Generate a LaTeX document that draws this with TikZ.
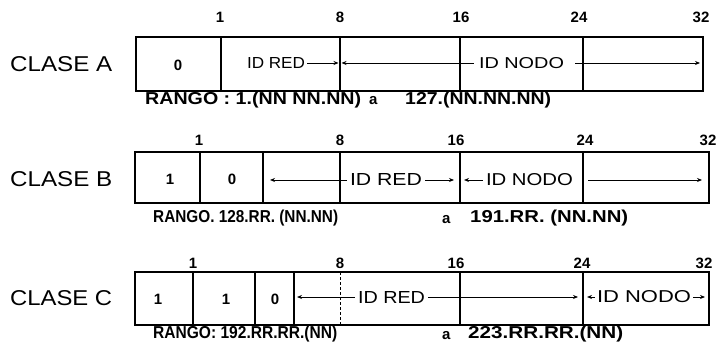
\documentclass[tikz,border=0pt]{standalone}
\usepackage{fontspec}
\setmainfont{Liberation Sans}
\usetikzlibrary{arrows.meta,calc}
\newcommand{\fitt}[3]{\resizebox{#1pt}{#2pt}{#3}}
\tikzset{
  cell/.style={draw, line width=1.3pt, inner sep=0pt, outer sep=0pt, anchor=north west},
  outerbox/.style={draw, line width=1.8pt, inner sep=0pt, outer sep=0pt, anchor=north west},
  dig/.style={font=\fontsize{15}{15}\selectfont\bfseries, inner sep=0pt},
  num/.style={font=\fontsize{15}{15}\selectfont\bfseries, inner sep=0pt},
  lbl/.style={inner sep=2pt},
  clase/.style={inner sep=0pt, anchor=west},
  rango/.style={inner sep=0pt, anchor=west},
  arr/.style={line width=0.9pt, -{Stealth[length=5pt,width=4pt]}},
  ln/.style={line width=0.9pt}
}
\begin{document}
\begin{tikzpicture}[x=1pt,y=-1pt]
\useasboundingbox (0,0) rectangle (722,347);

% ---------------- CLASE A ----------------
\node[clase] (ca) at (10,64) {\fitt{102}{15}{CLASE A}};
\node[cell, minimum width=85pt,  minimum height=54pt] (a0) at (136,37) {};
\node[cell, minimum width=119pt, minimum height=54pt] (a1) at (221,37) {};
\node[cell, minimum width=120pt, minimum height=54pt] (a2) at (340,37) {};
\node[cell, minimum width=123pt, minimum height=54pt] (a3) at (460,37) {};
\node[cell, minimum width=120pt, minimum height=54pt] (a4) at (583,37) {};
\node[outerbox, minimum width=567pt, minimum height=54pt] (boxa) at (136,37) {};
\node[dig] (a0t) at (178,65) {0};
\node[num] (na1)  at (220,17) {1};
\node[num] (na8)  at (340,17) {8};
\node[num] (na16) at (461,17) {16};
\node[num] (na24) at (579,17) {24};
\node[num] (na32) at (701,17) {32};
\node[lbl] (ared) at (276,63) {\fitt{58}{11}{ID RED}};
\draw[arr, shorten >=1.5pt] (ared.east) -- (ared.east -| a1.east);
\node[lbl, inner sep=5pt] (anodo) at (521.5,63) {\fitt{85}{11}{ID NODO}};
\draw[arr, shorten >=1.5pt] (anodo.west) -- (anodo.west -| a2.west);
\draw[arr, shorten <=6pt, shorten >=3pt] (anodo.east) -- (anodo.east -| a4.east);
\node[rango] (ra1) at (145,100) {\fitt{216}{12.5}{\bfseries RANGO : 1.(NN NN.NN)}};
\node[rango] (ra2) at (369,101) {\fontsize{15}{15}\selectfont\bfseries a};
\node[rango] (ra3) at (405,100) {\fitt{146}{12.5}{\bfseries 127.(NN.NN.NN)}};

% ---------------- CLASE B ----------------
\node[clase] (cb) at (10,179) {\fitt{102}{15}{CLASE B}};
\node[cell, minimum width=65pt,  minimum height=51pt] (b0) at (135,152) {};
\node[cell, minimum width=63pt,  minimum height=51pt] (b1) at (200,152) {};
\node[cell, minimum width=77pt,  minimum height=51pt] (b2) at (263,152) {};
\node[cell, minimum width=120pt, minimum height=51pt] (b3) at (340,152) {};
\node[cell, minimum width=123pt, minimum height=51pt] (b4) at (460,152) {};
\node[cell, minimum width=126pt, minimum height=51pt] (b5) at (583,152) {};
\node[outerbox, minimum width=574pt, minimum height=51pt] (boxb) at (135,152) {};
\node[dig] (b0t) at (170,179) {1};
\node[dig] (b1t) at (232,179) {0};
\node[num] (nb1)  at (199,140) {1};
\node[num] (nb8)  at (340,140) {8};
\node[num] (nb16) at (456,140) {16};
\node[num] (nb24) at (585,140) {24};
\node[num] (nb32) at (708,140) {32};
\node[lbl, inner sep=3pt] (bred) at (386,180) {\fitt{72}{12}{ID RED}};
\draw[arr, shorten >=7pt] (bred.west) -- (bred.west -| b2.west);
\draw[arr, shorten >=6pt] (bred.east) -- (bred.east -| b3.east);
\node[lbl, inner sep=3pt] (bnodo) at (529.5,180) {\fitt{87}{12}{ID NODO}};
\draw[arr, shorten >=4pt] (bnodo.west) -- (bnodo.west -| b4.west);
\draw[arr, shorten <=5pt, shorten >=7pt] (bnodo.east -| b5.west) -- (bnodo.east -| b5.east);
\node[rango] (rb1) at (153,218.5) {\fitt{185}{12.5}{\bfseries RANGO. 128.RR. (NN.NN)}};
\node[rango] (rb2) at (442,220) {\fontsize{15}{15}\selectfont\bfseries a};
\node[rango] (rb3) at (470,218.5) {\fitt{158}{12.5}{\bfseries 191.RR. (NN.NN)}};

% ---------------- CLASE C ----------------
\node[clase] (cc) at (10,298) {\fitt{102}{15}{CLASE C}};
\node[cell, minimum width=58pt,  minimum height=53pt] (c0) at (135,272) {};
\node[cell, minimum width=62pt,  minimum height=53pt] (c1) at (193,272) {};
\node[cell, minimum width=39pt,  minimum height=53pt] (c2) at (255,272) {};
\node[cell, minimum width=166pt, minimum height=53pt] (c3) at (294,272) {};
\node[cell, minimum width=123pt, minimum height=53pt] (c4) at (460,272) {};
\node[cell, minimum width=126pt, minimum height=53pt] (c5) at (583,272) {};
\node[outerbox, minimum width=574pt, minimum height=53pt] (boxc) at (135,272) {};
\coordinate (c8t) at (340,272);
\coordinate (c8b) at (340,325);
\draw[line width=0.8pt, dashed, dash pattern=on 3pt off 2pt] (c8t) -- (c8b);
\node[dig] (c0t) at (158,299) {1};
\node[dig] (c1t) at (226,299) {1};
\node[dig] (c2t) at (275,299) {0};
\node[num] (nc1)  at (193,263) {1};
\node[num] (nc8)  at (340,263) {8};
\node[num] (nc16) at (456,263) {16};
\node[num] (nc24) at (582,263) {24};
\node[num] (nc32) at (704,263) {32};
\node[lbl, inner sep=3pt] (cred) at (391.5,297) {\fitt{67}{12}{ID RED}};
\draw[arr, shorten >=3pt] (cred.west) -- (cred.west -| c3.west);
\draw[arr, shorten >=5pt] (cred.east) -- (cred.east -| c4.east);
\node[lbl, inner sep=2pt] (cnodo) at (644,297) {\fitt{94}{12}{ID NODO}};
\draw[arr, shorten >=4pt] (cnodo.west) -- (cnodo.west -| c5.west);
\draw[arr, shorten >=4pt] (cnodo.east) -- (cnodo.east -| c5.east);
\node[rango] (rc1) at (153,334) {\fitt{184}{12.5}{\bfseries RANGO: 192.RR.RR.(NN)}};
\node[rango] (rc2) at (442,336) {\fontsize{15}{15}\selectfont\bfseries a};
\node[rango] (rc3) at (468,334) {\fitt{155}{12.5}{\bfseries 223.RR.RR.(NN)}};
\end{tikzpicture}
\end{document}
